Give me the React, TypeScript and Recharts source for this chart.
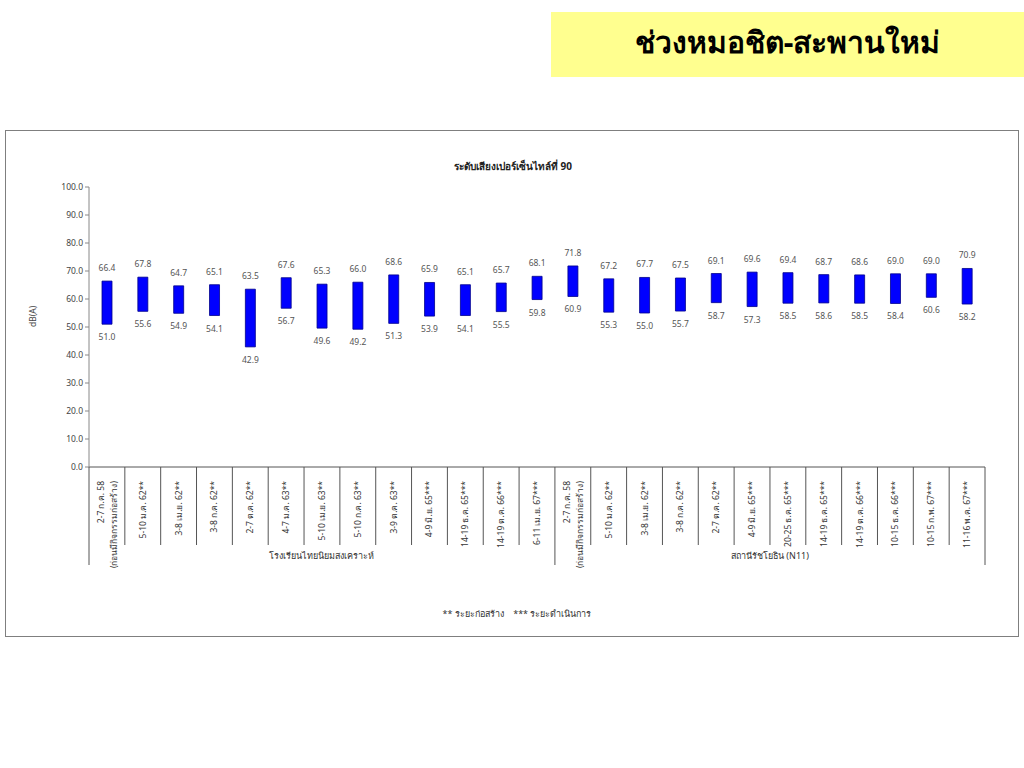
import React from 'react';
import { BarChart, Bar, XAxis, YAxis, Label } from 'recharts';

const categories = [
  '2-7 ก.ค. 58|(ก่อนมีกิจกรรมก่อสร้าง)',
  '5-10 ม.ค. 62**',
  '3-8 เม.ย. 62**',
  '3-8 ก.ค. 62**',
  '2-7 ต.ค. 62**',
  '4-7 ม.ค. 63**',
  '5-10 เม.ย. 63**',
  '5-10 ก.ค. 63**',
  '3-9 ต.ค. 63**',
  '4-9 มิ.ย. 65***',
  '14-19 ธ.ค. 65***',
  '14-19 ต.ค. 66***',
  '6-11 เม.ย. 67***',
  '2-7 ก.ค. 58|(ก่อนมีกิจกรรมก่อสร้าง)',
  '5-10 ม.ค. 62**',
  '3-8 เม.ย. 62**',
  '3-8 ก.ค. 62**',
  '2-7 ต.ค. 62**',
  '4-9 มิ.ย. 65***',
  '20-25 ธ.ค. 65***',
  '14-19 ธ.ค. 65***',
  '14-19 ต.ค. 66***',
  '10-15 ธ.ค. 66***',
  '10-15 ก.พ. 67***',
  '11-16 พ.ค. 67***',
];

const groups = ['โรงเรียนไทยนิยมสงเคราะห์', 'สถานีรัชโยธิน (N11)'];
const groupSizes = [13, 12];

const maxValues = [
  66.4, 67.8, 64.7, 65.1, 63.5, 67.6, 65.3, 66.0, 68.6, 65.9, 65.1, 65.7, 68.1,
  71.8, 67.2, 67.7, 67.5, 69.1, 69.6, 69.4, 68.7, 68.6, 69.0, 69.0, 70.9,
];
const minValues = [
  51.0, 55.6, 54.9, 54.1, 42.9, 56.7, 49.6, 49.2, 51.3, 53.9, 54.1, 55.5, 59.8,
  60.9, 55.3, 55.0, 55.7, 58.7, 57.3, 58.5, 58.6, 58.5, 58.4, 60.6, 58.2,
];

const yTicks = [0, 10, 20, 30, 40, 50, 60, 70, 80, 90, 100];

const data = categories.map((c, i) => ({
  key: `c${i}`,
  label: c,
  min: minValues[i],
  max: maxValues[i],
}));

const FONT = 'Tahoma, "Noto Sans", "DejaVu Sans", sans-serif';
const STEP = 896 / categories.length;

// group boundaries (index of last category in each group)
const groupEnds: number[] = [];
groupSizes.reduce((acc, n) => {
  groupEnds.push(acc + n - 1);
  return acc + n;
}, 0);

const CategoryTick = (props: any) => {
  const { x, y, index } = props;
  const lines = data[index].label.split('|');
  const right = x + STEP / 2;
  const isGroupEnd = groupEnds.includes(index);
  const out: React.ReactNode[] = [];
  lines.forEach((ln: string, k: number) => {
    const off = lines.length === 1 ? 3 : k === 0 ? -3 : 10;
    out.push(
      <text
        key={`t${k}`}
        x={0}
        y={0}
        transform={`translate(${x + off},${y + 6}) rotate(-90)`}
        textAnchor="end"
        fontSize={8.5}
        fill="#333"
        fontFamily={FONT}
      >
        {ln}
      </text>
    );
  });
  out.push(
    <line key="div" x1={right} x2={right} y1={y - 8} y2={y + (isGroupEnd ? 90 : 70)} stroke="#555" strokeWidth={1} />
  );
  if (index === 0) {
    out.push(<line key="left" x1={x - STEP / 2} x2={x - STEP / 2} y1={y - 8} y2={y + 90} stroke="#555" strokeWidth={1} />);
  }
  // group name centred under its categories
  let start = 0;
  groupSizes.forEach((n, g) => {
    const mid = start + (n - 1) / 2;
    if (Math.floor(mid) === index) {
      const cx = x + (mid - index) * STEP;
      out.push(
        <text key={`g${g}`} x={cx} y={y + 84} textAnchor="middle" fontSize={9} fill="#333" fontFamily={FONT}>
          {groups[g]}
        </text>
      );
    }
    start += n;
  });
  return <g>{out}</g>;
};

const RangeLabels = (props: any) => {
  const { x, y, width, height, index } = props;
  const d = data[index];
  const cx = x + width / 2;
  return (
    <g fontFamily={FONT} fontSize={8.5} fill="#555">
      <text x={cx} y={y - 10} textAnchor="middle">{d.max.toFixed(1)}</text>
      <text x={cx} y={y + height + 16} textAnchor="middle">{d.min.toFixed(1)}</text>
    </g>
  );
};

export default function App() {
  return (
    <div style={{ position: 'absolute', left: 0, top: 0, width: 1024, height: 768, background: '#fff', fontFamily: FONT }}>
      <div
        style={{
          position: 'absolute',
          left: 551,
          top: 12,
          width: 473,
          height: 65,
          background: '#FFFF8F',
          display: 'flex',
          alignItems: 'center',
          justifyContent: 'center',
          fontSize: 30,
          fontWeight: 'bold',
          color: '#000',
          paddingBottom: 4,
          boxSizing: 'border-box',
        }}
      >
        ช่วงหมอชิต-สะพานใหม่
      </div>
      <div
        style={{
          position: 'absolute',
          left: 5,
          top: 130,
          width: 1012,
          height: 505,
          border: '1px solid #7f7f7f',
        }}
      />
      <div style={{ position: 'absolute', left: 0, top: 130 }}>
        <BarChart
          width={1024}
          height={507}
          data={data}
          margin={{ top: 57, right: 39, bottom: 70, left: 29 }}
          barCategoryGap={0}
        >
          <text x={513} y={40} textAnchor="middle" fontSize={10} fontWeight="bold" fill="#222" fontFamily={FONT}>
            ระดับเสียงเปอร์เซ็นไทล์ที่ 90
          </text>
          <text x={517} y={487} textAnchor="middle" fontSize={9} fill="#333" fontFamily={FONT}>
            ** ระยะก่อสร้าง&#160;&#160;&#160;&#160;*** ระยะดำเนินการ
          </text>
          <XAxis
            dataKey="key"
            interval={0}
            height={100}
            tickLine={false}
            stroke="#555"
            tick={<CategoryTick />}
          />
          <YAxis
            width={60}
            domain={[0, 100]}
            ticks={yTicks}
            interval={0}
            tickFormatter={(v: number) => v.toFixed(1)}
            tick={{ fontSize: 8.5, fill: '#444', fontFamily: FONT }}
            tickSize={4}
            stroke="#888"
          >
            <Label
              value="dB(A)"
              angle={-90}
              position="insideLeft"
              offset={4}
              style={{ fontSize: 8.5, fill: '#444', fontFamily: FONT }}
            />
          </YAxis>
          <Bar
            dataKey={(d: any) => [d.min, d.max]}
            barSize={10}
            fill="#0000FF"
            stroke="#00008B"
            strokeWidth={0.8}
            isAnimationActive={false}
            label={<RangeLabels />}
          />
        </BarChart>
      </div>
    </div>
  );
}
